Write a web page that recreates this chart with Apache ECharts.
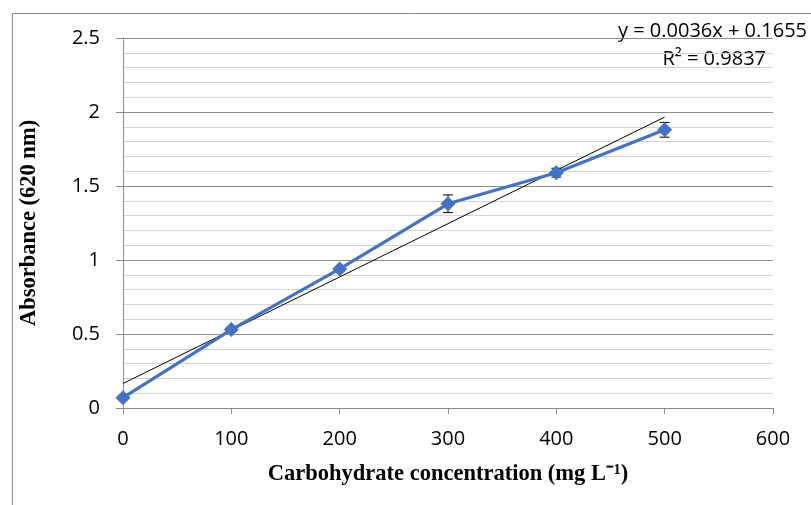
<!DOCTYPE html>
<html>
<head>
<meta charset="utf-8">
<script src="https://cdn.jsdelivr.net/npm/echarts@6/dist/echarts.min.js"></script>
<style>
  html, body { margin: 0; padding: 0; background: #fff; }
  #chart { width: 811px; height: 505px; }
</style>
</head>
<body>
<div id="chart"></div>
<script>
// Carbohydrate standard curve: absorbance at 620 nm
const concentrations = [0, 100, 200, 300, 400, 500];
const absorbance = [0.07, 0.53, 0.94, 1.38, 1.59, 1.88];
const errors = [0.015, 0.015, 0.015, 0.06, 0.03, 0.05];
const fitSlope = 0.0036;
const fitIntercept = 0.1655;
const fitR2 = 0.9837;
const fitRange = [0, 500];

const chart = echarts.init(document.getElementById('chart'), null, { renderer: 'canvas' });

const points = concentrations.map((x, i) => [x, absorbance[i]]);
const errorData = concentrations.map((x, i) => [x, absorbance[i] - errors[i], absorbance[i] + errors[i]]);
const fitLine = fitRange.map(x => [x, fitSlope * x + fitIntercept]);

const tickFont = { fontFamily: 'Open Sans', fontSize: 20, color: '#000' };
const titleFont = { fontFamily: 'Liberation Serif', fontSize: 22.5, fontWeight: 'bold', color: '#000' };

chart.setOption({
  animation: false,
  grid: { left: 123, top: 38, right: 38, bottom: 97, containLabel: false },
  xAxis: {
    type: 'value', min: 0, max: 600, interval: 100,
    name: 'Carbohydrate concentration (mg L\u207B\u00B9)',
    nameLocation: 'middle', nameGap: 55, nameTextStyle: titleFont,
    axisLine: { show: true, lineStyle: { color: '#8c8c8c', width: 1 } },
    axisTick: { show: true, inside: false, length: 6, lineStyle: { color: '#8c8c8c' } },
    axisLabel: Object.assign({ margin: 21 }, tickFont),
    splitLine: { show: false }
  },
  yAxis: {
    type: 'value', min: 0, max: 2.5, interval: 0.5,
    name: 'Absorbance (620 nm)',
    nameLocation: 'middle', nameGap: 82, nameRotate: 90, nameTextStyle: titleFont,
    axisLine: { show: true, lineStyle: { color: '#8c8c8c', width: 1 } },
    axisTick: { show: true, inside: false, length: 7, lineStyle: { color: '#8c8c8c' } },
    axisLabel: Object.assign({ margin: 23 }, tickFont),
    splitLine: { show: true, lineStyle: { color: '#8c8c8c', width: 1 } },
    minorTick: { show: false, splitNumber: 5 },
    minorSplitLine: { show: true, lineStyle: { color: '#d4d4d4', width: 1 } }
  },
  graphic: [
    { type: 'line', shape: { x1: 12.5, y1: 13.5, x2: 811, y2: 13.5 }, style: { stroke: '#8c8c8c', lineWidth: 1 }, silent: true },
    { type: 'line', shape: { x1: 12.5, y1: 13.5, x2: 12.5, y2: 505 }, style: { stroke: '#8c8c8c', lineWidth: 1 }, silent: true },
    { type: 'text', x: 807, y: 31, style: { text: 'y = ' + fitSlope.toFixed(4) + 'x + ' + fitIntercept.toFixed(4), fontFamily: 'Open Sans', fontSize: 20, fill: '#000', textAlign: 'right', textVerticalAlign: 'middle' } },
    { type: 'text', x: 766, y: 59, style: { text: 'R\u00B2 = ' + fitR2.toFixed(4), fontFamily: 'Open Sans', fontSize: 20, fill: '#000', textAlign: 'right', textVerticalAlign: 'middle' } }
  ],
  series: [
    {
      name: 'Linear fit', type: 'line', data: fitLine, symbol: 'none',
      lineStyle: { color: '#000', width: 1 }, z: 3
    },
    {
      name: 'Error', type: 'custom', data: errorData, z: 4,
      renderItem: function (params, api) {
        const x = api.value(0);
        const lo = api.coord([x, api.value(1)]);
        const hi = api.coord([x, api.value(2)]);
        const w = 5;
        const s = { stroke: '#000', lineWidth: 1 };
        return {
          type: 'group',
          children: [
            { type: 'line', shape: { x1: lo[0], y1: lo[1], x2: hi[0], y2: hi[1] }, style: s },
            { type: 'line', shape: { x1: lo[0] - w, y1: lo[1], x2: lo[0] + w, y2: lo[1] }, style: s },
            { type: 'line', shape: { x1: hi[0] - w, y1: hi[1], x2: hi[0] + w, y2: hi[1] }, style: s }
          ]
        };
      }
    },
    {
      name: 'Absorbance', type: 'line', data: points,
      symbol: 'diamond', symbolSize: 15,
      lineStyle: { color: '#4472C4', width: 3.2 },
      itemStyle: { color: '#4472C4' }, z: 5
    }
  ]
});
</script>
</body>
</html>
